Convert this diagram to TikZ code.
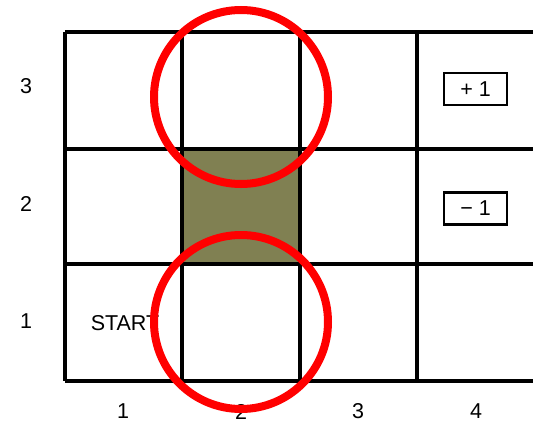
\documentclass[tikz,border=0pt]{standalone}
\usepackage{fontspec}
\setmainfont{Liberation Sans}
\usetikzlibrary{positioning}
\definecolor{wallolive}{HTML}{808052}
\definecolor{ringred}{HTML}{FF0000}
\tikzset{
  gridline/.style={line width=3.2pt, black},
  lab/.style={font=\fontsize{21.5}{24}\selectfont, inner sep=0pt},
  reward/.style={draw, line width=2.8pt, minimum width=63pt, minimum height=32pt,
                 font=\fontsize{21.5}{24}\selectfont, inner sep=0pt},
  ring/.style={draw=ringred, line width=8pt, circle, minimum size=174pt, inner sep=0pt},
}

\begin{document}
\begin{tikzpicture}[x=1pt, y=-1pt]
    \useasboundingbox (0,0) rectangle (533,423);
    % blocked cell
    \fill[wallolive] (182,149) rectangle (300,264);
    % grid
    \foreach \gy in {32,149,264,381}
      \draw[gridline] (65,\gy) -- (533,\gy);
    \foreach \gx in {65,182,300,417}
      \draw[gridline] (\gx,32) -- (\gx,381);
    % axis numbers
    \node[lab] (row3) at (26,86) {3};
    \node[lab] (row2) at (26,204) {2};
    \node[lab] (row1) at (26,321) {1};
    \node[lab] (col1) at (123,411.5) {1};
    \node[lab] (col2) at (241,411.5) {2};
    \node[lab] (col3) at (358,411.5) {3};
    \node[lab] (col4) at (476,411.5) {4};
    % texts in cells
    \node[lab] (start) at (125,323) {START};
    \node[reward] (plus) at (475.5,89) {+ 1};
    \node[reward] (minus) at (475.5,208.5) {− 1};
    % rings
    \node[ring] (ringtop) at (241,97) {};
    \node[ring] (ringbot) at (241,322) {};
\end{tikzpicture}
\end{document}
